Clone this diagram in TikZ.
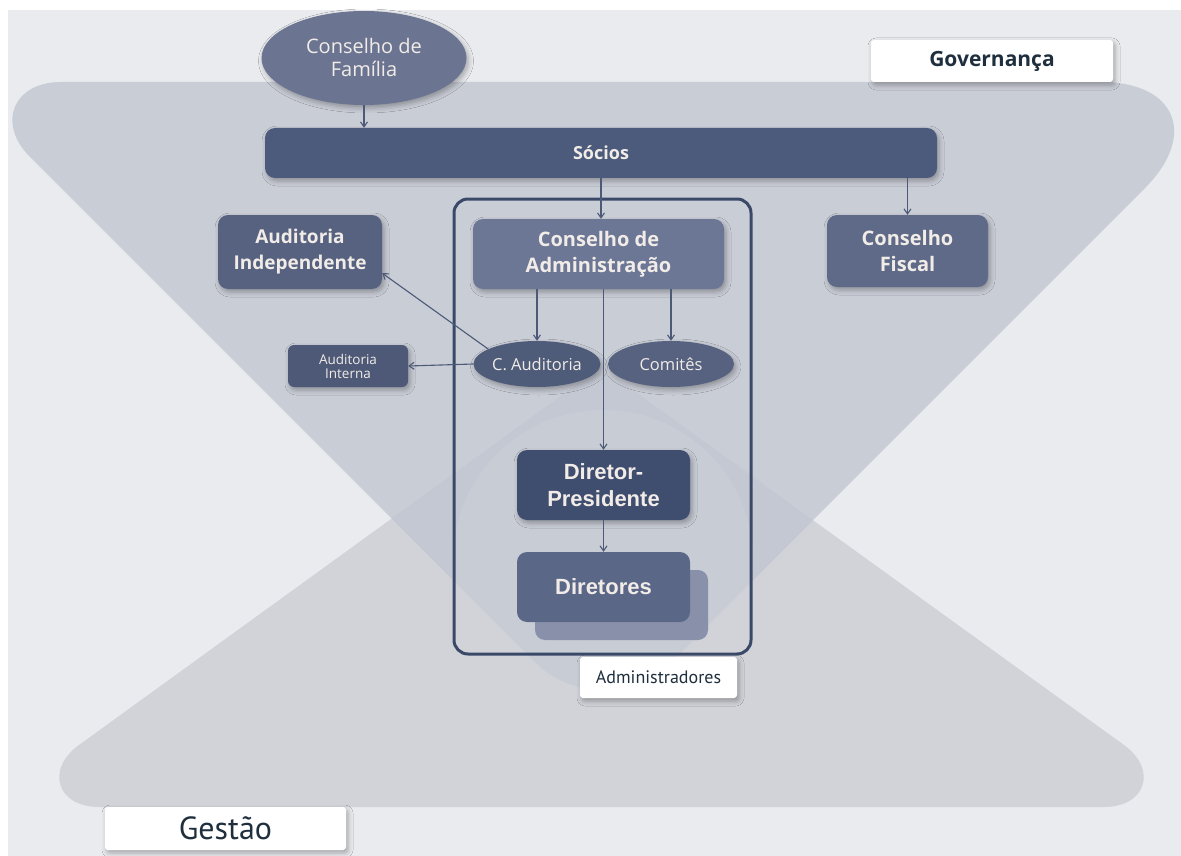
\documentclass[tikz,border=0pt]{standalone}
\usepackage{fontspec}
\setmainfont{Open Sans}
\newfontfamily\arialf{Liberation Sans}
\newfontfamily\ptsans{PT Sans}
\usetikzlibrary{arrows.meta,shadows.blur,shapes.geometric}
\definecolor{bgc}{HTML}{E9EBEF}
\definecolor{topc}{HTML}{C9CDD6}
\definecolor{botc}{HTML}{D1D3D9}
\definecolor{ovc}{HTML}{C4C8D2}
\definecolor{txtl}{HTML}{F2ECE8}
\definecolor{txtd}{HTML}{1F2F3E}
\definecolor{arrc}{HTML}{4C5977}
\definecolor{framec}{HTML}{3B4969}
\definecolor{famc}{HTML}{6B7591}
\definecolor{socc}{HTML}{4C5B7C}
\definecolor{audindc}{HTML}{56627F}
\definecolor{cadmc}{HTML}{6C7795}
\definecolor{cfisc}{HTML}{5E6A87}
\definecolor{caudc}{HTML}{4E5B79}
\definecolor{comc}{HTML}{56627F}
\definecolor{audintc}{HTML}{4D5977}
\definecolor{dirpc}{HTML}{3F4D6F}
\definecolor{dirsc}{HTML}{5B6787}
\definecolor{dshc}{HTML}{7E87A3}
\newcommand{\mytoppath}{(61,82) -- (1101,82) .. controls (1176,82) and (1198,135) .. (1145,188) -- (671.6,661.4) .. controls (633.9,699.1) and (572.1,699.1) .. (534.4,661.4) -- (30,157) .. controls (-3.75,123.25) and (13.3,82) .. (61,82) -- cycle}
\newcommand{\mybotpath}{(99,807) -- (1104,807) .. controls (1146,807) and (1158,769.8) .. (1124,745) -- (617.2,378.7) .. controls (608,372) and (594,372) .. (584.8,378.7) -- (79,745) .. controls (45,769.6) and (57,807) .. (99,807) -- cycle}
\tikzset{
  shd/.style={blur shadow={shadow xshift=2pt,shadow yshift=-3pt,shadow blur radius=5pt,shadow opacity=30}},
  orgbox/.style={rectangle, rounded corners=10pt, inner sep=0pt, align=center, text=txtl, shd},
  orgell/.style={ellipse, inner sep=0pt, align=center, text=txtl, shd},
  lbl/.style={rectangle, rounded corners=3pt, fill=white, inner sep=0pt, text=txtd, shd},
  arr/.style={draw=arrc, line width=1.1pt, -{Straight Barb[length=5pt,width=7pt]}},
}
\begin{document}
\begin{tikzpicture}[x=1pt,y=-1pt]
\useasboundingbox (0,0) rectangle (1181,856);
\fill[white] (0,0) rectangle (1181,856);
\fill[bgc] (8,10) rectangle (1181,856);
% big shapes
\fill[botc] \mybotpath;
\fill[topc] \mytoppath;
\begin{scope}
  \clip \mytoppath;
  \fill[ovc] \mybotpath;
  \clip \mybotpath;
  \fill[white, opacity=0.08] (603,560) circle[radius=150];
\end{scope}

% frame
\draw[framec, line width=3pt, rounded corners=14pt] (454,199) rectangle (751,654);

% nodes
\node[orgell, fill=famc, minimum width=205pt, minimum height=94pt,
      font=\fontsize{20pt}{23pt}\selectfont] (fam) at (364,58) {Conselho de\\Família};
\node[orgbox, fill=socc, minimum width=672pt, minimum height=50pt,
      font=\fontsize{18pt}{22pt}\selectfont\bfseries] (socios) at (601,153) {Sócios};
\node[orgbox, fill=audindc, minimum width=164pt, minimum height=74pt,
      font=\fontsize{19pt}{26pt}\selectfont\bfseries] (audind) at (300,252) {Auditoria\\Independente};
\node[orgbox, fill=cadmc, minimum width=251pt, minimum height=70pt,
      font=\fontsize{20pt}{26pt}\selectfont\bfseries] (cadm) at (598.5,254) {Conselho de\\Administração};
\node[orgbox, fill=cfisc, minimum width=161pt, minimum height=72pt,
      font=\fontsize{20pt}{26pt}\selectfont\bfseries] (cfis) at (907.5,251) {Conselho\\Fiscal};
\node[orgell, fill=caudc, minimum width=122pt, minimum height=46pt,
      font=\fontsize{16.5pt}{18pt}\selectfont] (caud) at (537,364) {C. Auditoria};
\node[orgell, fill=comc, minimum width=126pt, minimum height=46pt,
      font=\fontsize{16.5pt}{18pt}\selectfont] (comites) at (671,364) {Comitês};
\node[orgbox, rounded corners=6pt, fill=audintc, minimum width=120pt, minimum height=42pt,
      font=\fontsize{13.5pt}{14pt}\selectfont] (audint) at (348,366) {Auditoria\\Interna};
\node[orgbox, fill=dirpc, minimum width=173pt, minimum height=70pt,
      font=\arialf\fontsize{22pt}{27pt}\selectfont\bfseries] (dirp) at (603.5,485) {Diretor-\\Presidente};
\fill[dshc, opacity=0.85, rounded corners=10pt] (535,570) rectangle (708,640);
\node[rectangle, rounded corners=10pt, inner sep=0pt, align=center, text=txtl,
      fill=dirsc, minimum width=173pt, minimum height=70pt,
      font=\arialf\fontsize{22pt}{27pt}\selectfont\bfseries] (dirs) at (603.5,587) {Diretores};

\node[lbl, minimum width=157pt, minimum height=41pt,
      font=\ptsans\fontsize{18pt}{20pt}\selectfont] (admlab) at (658.5,677.5) {Administradores};
\node[lbl, minimum width=242pt, minimum height=42pt,
      font=\fontsize{21pt}{24pt}\selectfont\bfseries] (gov) at (992,61) {Governança};
\node[lbl, minimum width=241pt, minimum height=43pt,
      font=\ptsans\fontsize{32pt}{34pt}\selectfont] (gest) at (225.5,828.5) {Gestão};

% connectors
\draw[arr] (fam.south) -- (fam.south |- socios.north);
\draw[arr] (socios.south) -- (socios.south |- cadm.north);
\draw[arr] (cfis.north |- socios.south) -- (cfis.north);
\draw[arr] (caud.north |- cadm.south) -- (caud.north);
\draw[arr] (comites.north |- cadm.south) -- (comites.north);
\draw[arr] (dirp.north |- cadm.south) -- (dirp.north);
\draw[arr] (dirp.south) -- (dirs.north);
\draw[arr] (caud.west) -- (audint.east);
\coordinate (audindin) at ([yshift=16pt]audind.south east);
\draw[arr] (caud.163) -- (audindin);
\end{tikzpicture}
\end{document}
